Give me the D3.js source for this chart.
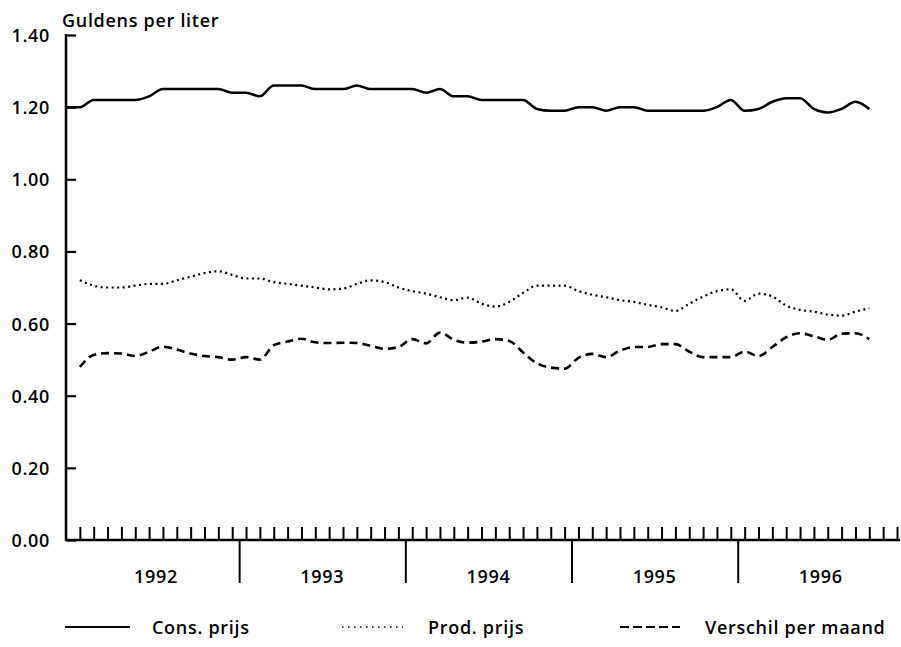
<!DOCTYPE html>
<html>
<head>
<meta charset="utf-8">
<script src="https://cdnjs.cloudflare.com/ajax/libs/d3/7.8.5/d3.min.js"></script>
<style>
  body { margin: 0; background: #fff; }
  svg text { font-family: "Open Sans", "Noto Sans", sans-serif; font-weight: 600; fill: #000; letter-spacing: 0.7px; }
</style>
</head>
<body>
<svg width="901" height="647"></svg>
<script>
// months are counted from Jan 1992 (index 0)
var years = [1992, 1993, 1994, 1995, 1996];
var yTicks = [0, 0.2, 0.4, 0.6, 0.8, 1.0, 1.2, 1.4];

// Cons. prijs starts one month earlier (Dec 1991, at the axis)
var consStart = -1;
var consPrijs = [1.20,
  1.20, 1.22, 1.22, 1.22, 1.22, 1.23, 1.25, 1.25, 1.25, 1.25, 1.25, 1.24,
  1.24, 1.23, 1.26, 1.26, 1.26, 1.25, 1.25, 1.25, 1.26, 1.25, 1.25, 1.25,
  1.25, 1.24, 1.25, 1.23, 1.23, 1.22, 1.22, 1.22, 1.22, 1.195, 1.19, 1.19,
  1.20, 1.20, 1.19, 1.20, 1.20, 1.19, 1.19, 1.19, 1.19, 1.19, 1.20, 1.22,
  1.19, 1.195, 1.215, 1.225, 1.225, 1.195, 1.185, 1.195, 1.215, 1.195];

var prodPrijs = [
  0.72, 0.705, 0.70, 0.70, 0.705, 0.71, 0.71, 0.72, 0.73, 0.74, 0.745, 0.735,
  0.725, 0.725, 0.715, 0.71, 0.705, 0.70, 0.695, 0.697, 0.71, 0.72, 0.715, 0.70,
  0.69, 0.683, 0.673, 0.665, 0.672, 0.655, 0.647, 0.66, 0.685, 0.705, 0.705, 0.705,
  0.69, 0.68, 0.673, 0.665, 0.66, 0.652, 0.645, 0.635, 0.655, 0.675, 0.69, 0.695,
  0.663, 0.683, 0.675, 0.65, 0.638, 0.633, 0.625, 0.622, 0.633, 0.643];

var verschil = [
  0.48, 0.513, 0.518, 0.517, 0.51, 0.522, 0.536, 0.528, 0.517, 0.51, 0.507, 0.50,
  0.507, 0.50, 0.54, 0.55, 0.558, 0.548, 0.546, 0.547, 0.546, 0.538, 0.53, 0.535,
  0.557, 0.545, 0.575, 0.555, 0.547, 0.55, 0.557, 0.552, 0.52, 0.49, 0.478, 0.475,
  0.505, 0.516, 0.507, 0.525, 0.535, 0.535, 0.543, 0.543, 0.522, 0.507, 0.507, 0.507,
  0.522, 0.51, 0.535, 0.562, 0.573, 0.565, 0.555, 0.572, 0.573, 0.557];

var legendLabels = ["Cons. prijs", "Prod. prijs", "Verschil per maand"];
var dashes = [null, "2,3.5", "8,5"];
var legendDashes = [null, "1.5,4.5", "9,4"];

var svg = d3.select("svg");

var x = d3.scaleLinear().domain([-1, 59]).range([66, 897]);
var y = d3.scaleLinear().domain([0, 1.4]).range([540, 35]);

// y axis
var yAxis = svg.append("g").attr("transform", "translate(66,0)")
  .call(d3.axisRight(y).tickValues(yTicks).tickSize(10).tickFormat(d3.format(".2f")));
yAxis.select(".domain").remove();
yAxis.selectAll(".tick line").attr("stroke", "#000").attr("stroke-width", 2.2);
yAxis.selectAll(".tick text").attr("x", -16).attr("text-anchor", "end")
  .attr("font-size", 18).attr("dy", "0.36em");

svg.append("line")
  .attr("x1", 66).attr("x2", 66)
  .attr("y1", y(1.4) - 1).attr("y2", y(0) + 1)
  .attr("stroke", "#000").attr("stroke-width", 2.5);

svg.append("text").attr("x", 62).attr("y", 27)
  .attr("font-size", 18).text("Guldens per liter");

// x axis: month ticks pointing up, year separators below
var months = d3.range(0, 60);
var xAxis = svg.append("g").attr("transform", "translate(0,540)")
  .call(d3.axisTop(x).tickValues(months).tickSize(13).tickFormat(""));
xAxis.select(".domain").remove();
xAxis.selectAll(".tick line").attr("stroke", "#000").attr("stroke-width", 2);

svg.append("line")
  .attr("x1", 66).attr("x2", 900)
  .attr("y1", 540).attr("y2", 540)
  .attr("stroke", "#000").attr("stroke-width", 2.5);

var sep = svg.append("g").attr("transform", "translate(0,540)")
  .call(d3.axisBottom(x).tickValues([11.5, 23.5, 35.5, 47.5]).tickSize(43).tickFormat(""));
sep.select(".domain").remove();
sep.selectAll(".tick line").attr("stroke", "#000").attr("stroke-width", 2);

svg.append("g").selectAll("text").data(years).enter().append("text")
  .attr("x", function(d, i) { return x(i * 12 + 5.5); })
  .attr("y", 583)
  .attr("text-anchor", "middle")
  .attr("font-size", 18)
  .text(function(d) { return d; });

// lines
var line = d3.line()
  .x(function(d) { return x(d.m); })
  .y(function(d) { return y(d.v); })
  .curve(d3.curveMonotoneX);

function toPoints(arr, start) {
  return arr.map(function(v, i) { return { m: start + i, v: v }; });
}

var series = [toPoints(consPrijs, consStart), toPoints(prodPrijs, 0), toPoints(verschil, 0)];
var widths = [2.5, 2.2, 2.6];

svg.append("g").selectAll("path").data(series).enter().append("path")
  .attr("d", line)
  .attr("fill", "none")
  .attr("stroke", "#000")
  .attr("stroke-width", function(d, i) { return widths[i]; })
  .attr("stroke-dasharray", function(d, i) { return dashes[i]; });

// legend
var legX = [65, 342, 620];
var legW = [65, 61, 60];
var legTextX = [152, 428, 705];
var leg = svg.append("g").selectAll("g").data(legendLabels).enter().append("g");
leg.append("line")
  .attr("x1", function(d, i) { return legX[i]; })
  .attr("x2", function(d, i) { return legX[i] + legW[i]; })
  .attr("y1", 627).attr("y2", 627)
  .attr("stroke", "#000")
  .attr("stroke-width", function(d, i) { return i == 1 ? 1.5 : 2; })
  .attr("stroke-dasharray", function(d, i) { return legendDashes[i]; });
leg.append("text")
  .attr("x", function(d, i) { return legTextX[i]; })
  .attr("y", 634)
  .attr("font-size", 18)
  .text(function(d) { return d; });
</script>
</body>
</html>
